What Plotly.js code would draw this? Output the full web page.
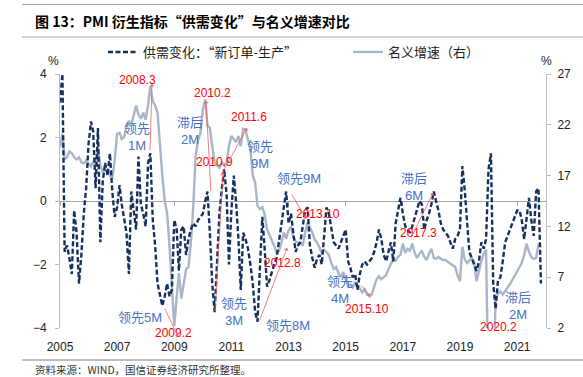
<!DOCTYPE html>
<html>
<head>
<meta charset="utf-8">
<script src="https://cdn.plot.ly/plotly-3.0.1.min.js"></script>
<style>html,body{margin:0;padding:0;background:#fff;}#chart{width:583px;height:377px;}</style>
</head>
<body>
<div id="chart"></div>
<script>
// ---- data (monthly, 2005-01 .. 2021-11) ----
const startYear = 2005;
const supplyDemand = [
 3.1,4.0,-1.6,-1.4,-1.8,-2.3,-0.3,-1.0,-2.6,-1.7,-0.4,0.4,
 1.8,2.5,2.2,0.4,2.3,-1.3,0.6,1.2,0.8,1.5,0.3,-0.5,
 -0.2,0.5,-0.1,-0.6,-1.0,-2.3,0.3,-0.3,-0.9,1.4,-0.1,-0.4,
 -0.8,1.2,1.5,-0.6,-1.4,-2.6,-2.9,-3.3,-3.0,-2.6,-3.0,-2.8,
 -0.6,-0.9,-2.2,-0.9,-0.8,-1.7,-1.2,-0.9,-0.7,-0.8,-0.6,-0.5,
 -0.4,0.0,0.3,-1.0,-2.6,-3.5,-2.0,-0.4,0.4,1.0,0.2,-2.0,
 -0.3,0.8,0.0,-1.2,-2.8,-1.0,-1.2,-1.5,-2.0,-2.6,-3.5,-3.8,
 -2.1,-0.5,-1.5,-2.7,-2.5,-2.2,-2.0,-1.8,-1.2,-0.8,-0.2,0.3,
 -0.7,-0.4,-1.0,-1.6,-1.4,-1.3,-0.8,-0.3,-0.2,-1.4,-1.8,-2.1,
 -1.8,-1.7,-2.0,-1.2,-0.2,-0.4,-0.9,-1.3,-1.4,-1.5,-1.3,-1.1,
 -0.9,-1.9,-2.1,-2.4,-2.3,-2.8,-2.3,-2.0,-1.9,-2.0,-1.9,-1.8,
 -1.6,-1.3,-0.9,-1.2,-1.7,-1.9,-1.6,-1.3,-1.9,-0.7,-0.3,0.1,
 -0.4,-0.8,-0.9,-1.0,-0.8,-0.5,-0.3,0.0,-0.1,-0.9,-0.6,-0.4,
 -0.1,0.3,0.0,-0.3,-0.7,-0.9,-1.0,-1.1,-1.3,-1.5,-1.2,-1.1,
 -0.9,1.1,0.4,-0.8,-1.6,-1.8,-2.0,-2.2,-1.9,-1.3,-1.5,-1.2,
 1.0,1.5,-2.6,-3.4,-2.5,-2.4,-1.9,-1.3,-1.1,-0.9,-0.7,-0.5,
 -0.3,-0.3,-0.6,-1.2,-0.5,0.1,-0.6,-1.1,0.3,0.4,-2.6
];
const nominalGrowth = [
 19.8,21.1,18.6,18.8,19.4,19.2,18.8,18.6,18.8,18.3,18.2,18.5,
 18.2,17.9,18.4,18.0,19.7,18.0,17.3,17.6,17.5,17.0,16.7,18.5,
 21.1,21.2,20.6,20.8,21.9,22.4,22.0,22.9,23.9,23.0,22.6,23.2,
 22.5,24.0,25.8,24.3,23.9,23.2,19.6,17.0,14.5,13.3,10.0,6.5,
 2.2,5.1,7.4,4.9,6.5,7.8,8.0,10.4,14.0,18.9,20.5,21.2,
 23.5,24.5,21.9,21.7,19.9,18.3,18.0,17.8,18.3,18.0,18.3,19.9,
 20.9,20.6,20.3,20.9,19.9,21.6,21.5,20.5,19.6,17.0,16.3,14.0,
 13.7,13.9,13.2,11.7,11.2,10.6,10.1,9.4,9.6,10.4,11.4,10.8,
 11.6,12.0,11.0,10.5,10.4,10.4,10.1,11.4,12.4,11.9,11.4,10.7,
 10.4,9.9,9.4,9.7,9.4,9.2,8.4,7.8,8.0,7.4,7.0,7.5,
 6.8,6.1,6.3,6.0,6.5,6.1,5.9,5.5,5.8,5.3,5.1,5.3,
 6.1,6.8,7.1,6.8,7.0,7.2,7.8,8.3,8.8,8.6,9.0,9.2,
 10.3,9.4,9.8,9.6,10.3,9.4,8.9,9.3,9.6,9.0,8.7,9.3,
 9.8,8.9,8.8,9.0,8.8,8.7,8.7,8.5,8.3,8.2,8.0,7.2,
 6.6,10.0,8.8,8.4,8.7,8.9,8.5,6.6,7.6,8.6,9.3,9.7,
 -5.3,-5.3,-5.3,5.1,5.4,5.6,5.3,5.7,6.0,6.3,6.7,7.2,
 7.6,8.0,8.4,9.2,10.3,9.5,9.0,8.8,8.9,10.3,null
];
const tickYears = ['2005','2007','2009','2011','2013','2015','2017','2019','2021'];
const leftTicks = [-4,-2,0,2,4];
const rightTicks = [2,7,12,17,22,27];
const seriesNames = ['供需变化：“新订单-生产”','名义增速（右）'];

// month dates
const dates = supplyDemand.map((_, i) => {
  const y = startYear + Math.floor(i / 12), m = (i % 12) + 1;
  return y + '-' + String(m).padStart(2, '0') + '-01';
});
const tickDates = tickYears.map(y => y + '-01-01');

// pixel -> paper helpers for decorations
const L = 60, R = 546, T = 74, B = 328;
const px = v => (v - L) / (R - L);
const py = v => (B - v) / (B - T);

const FONT = 'Liberation Sans, Arial, Noto Sans CJK SC, sans-serif';
const CJK = 'Noto Sans CJK SC, sans-serif';
const RED = '#FF0000', BLUE = '#4472C4';

const traces = [
  {x: dates, y: nominalGrowth, name: seriesNames[1], type: 'scatter', mode: 'lines',
   xaxis: 'x', yaxis: 'y', legend: 'legend2',
   line: {color: '#A9B5C8', width: 2.4}},
  {x: dates, y: supplyDemand, name: seriesNames[0], type: 'scatter', mode: 'lines',
   xaxis: 'x', yaxis: 'y2', legend: 'legend',
   line: {color: '#14305E', width: 2.4, dash: '5px,2.5px'}},
  {x: [dates[0]], y: [null], xaxis: 'x2', yaxis: 'y2', showlegend: false, hoverinfo: 'skip',
   type: 'scatter', mode: 'lines'}
];

const labels = [
  ['2008.3', 137, 80, RED], ['2010.2', 212, 93, RED], ['2011.6', 249, 117, RED],
  ['2010.9', 214, 162, RED], ['2013.10', 318, 214, RED], ['2012.8', 282, 263, RED],
  ['2015.10', 367, 309, RED], ['2017.3', 418, 233, RED], ['2020.2', 498, 327, RED],
  ['2009.2', 173, 333, RED],
  ['领先<br>1M', 137, 137, BLUE], ['滞后<br>2M', 190, 131, BLUE], ['领先<br>9M', 260, 155, BLUE],
  ['领先9M', 299, 178, BLUE], ['领先5M', 140, 317, BLUE], ['领先<br>3M', 234, 312, BLUE],
  ['领先8M', 288, 325, BLUE], ['领先<br>4M', 340, 290, BLUE], ['滞后<br>6M', 414, 187, BLUE],
  ['滞后<br>2M', 518, 306, BLUE]
];
const arrows = [
  [150,152,152,84], [211,193,206,101], [215,313,223,172], [220,177,247,128],
  [164,307,178,336], [259,322,287,248], [291,193,306,219], [360,284,370,296], [410,240,433,193]
];

const annotations = labels.map(([t, x, y, c]) => ({
  text: t, x: px(x), y: py(y), xref: 'paper', yref: 'paper', showarrow: false,
  xanchor: 'center', yanchor: 'middle',
  font: {family: FONT, size: c === RED ? 12 : 13, color: c}
})).concat(arrows.map(([x0, y0, x1, y1]) => ({
  text: '', x: px(x1), y: py(y1), xref: 'paper', yref: 'paper',
  ax: x0 - x1, ay: y0 - y1, axref: 'pixel', ayref: 'pixel',
  showarrow: true, arrowhead: 1, arrowsize: 1, arrowwidth: 0.8, arrowcolor: '#F46060',
  standoff: 0, startstandoff: 0
}))).concat([
  {text: '%', x: px(46), y: py(52), xref: 'paper', yref: 'paper', showarrow: false,
   font: {family: FONT, size: 12, color: '#222'}},
  {text: '%', x: px(554), y: py(52), xref: 'paper', yref: 'paper', showarrow: false,
   font: {family: FONT, size: 12, color: '#222'}},
  {text: '资料来源：WIND，国信证券经济研究所整理。', x: px(33), y: py(369.5), xref: 'paper', yref: 'paper',
   xanchor: 'left', yanchor: 'middle', showarrow: false,
   font: {family: CJK, size: 10.5, color: '#333'}}
]);

const hline = (y, c) => ({type: 'line', xref: 'paper', yref: 'paper', x0: px(22), x1: px(583),
  y0: py(y), y1: py(y), line: {color: c, width: 1}});

const axisCommon = {showgrid: false, zeroline: false, showline: true, linecolor: '#BFBFBF',
  linewidth: 1, ticks: 'outside', ticklen: 4, tickcolor: '#BFBFBF',
  tickfont: {family: FONT, size: 12, color: '#222'}};

const legendCommon = {orientation: 'h', xanchor: 'left', y: py(52), yanchor: 'middle',
  font: {family: CJK, size: 13, color: '#222'}, bgcolor: 'rgba(0,0,0,0)'};

const layout = {
  width: 583, height: 377,
  margin: {l: L, r: 583 - R, t: T, b: 377 - B, pad: 0},
  paper_bgcolor: '#fff', plot_bgcolor: '#fff',
  title: {text: '图 13：PMI 衍生指标“供需变化”与名义增速对比', xref: 'container', yref: 'container',
    x: 35 / 583, xanchor: 'left', y: 1 - 22 / 377, yanchor: 'middle',
    font: {family: CJK, size: 14, color: '#000', weight: 'bold'}},
  showlegend: true,
  legend: Object.assign({}, legendCommon, {x: px(103)}),
  legend2: Object.assign({}, legendCommon, {x: px(348)}),
  xaxis: {type: 'date', range: ['2005-01-01', '2022-01-05'], tickvals: tickDates, ticktext: tickYears,
    showgrid: false, zeroline: false, showline: false, ticks: '', ticklabelstandoff: 10,
    tickfont: {family: FONT, size: 12, color: '#222'}, anchor: 'y'},
  xaxis2: {type: 'date', overlaying: 'x', matches: 'x', anchor: 'free', position: 0.5,
    tickvals: tickDates, showticklabels: false, showgrid: false, zeroline: false,
    showline: true, linecolor: '#A6A6A6', linewidth: 1, ticks: 'outside', ticklen: 4,
    tickcolor: '#A6A6A6', layer: 'below traces'},
  yaxis: Object.assign({}, axisCommon, {side: 'right', range: [2, 27], tickvals: rightTicks,
    anchor: 'x', ticklabelstandoff: 4}),
  yaxis2: Object.assign({}, axisCommon, {side: 'left', overlaying: 'y', range: [-4, 4],
    tickvals: leftTicks, anchor: 'x', ticklabelstandoff: 6}),
  annotations: annotations,
  shapes: [hline(4.5, '#A6A6A6'), hline(37, '#A6A6A6'), hline(360, '#7F7F7F')]
};

Plotly.newPlot('chart', traces, layout, {staticPlot: true, displayModeBar: false});
</script>
</body>
</html>
